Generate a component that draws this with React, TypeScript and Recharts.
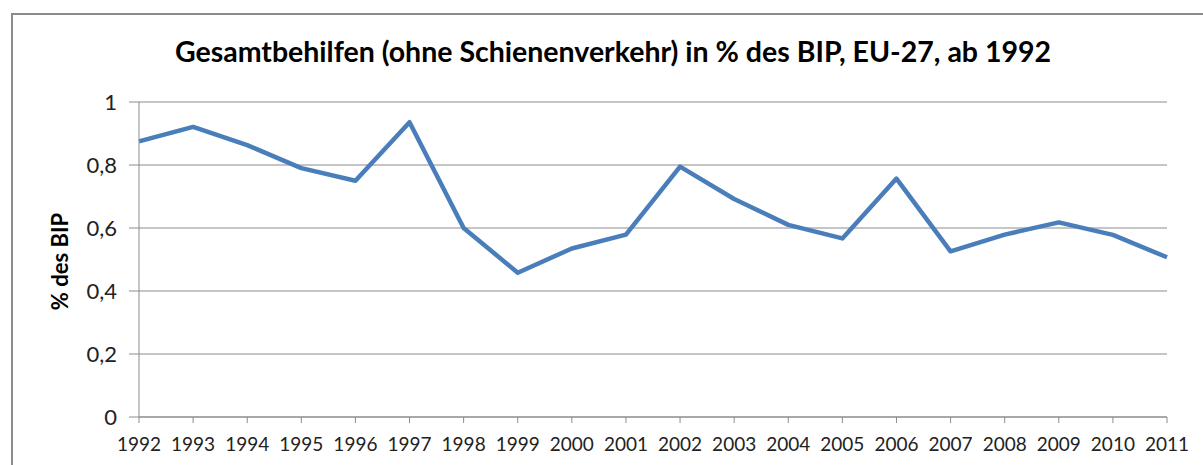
import { LineChart, Line, XAxis, YAxis, CartesianGrid } from "recharts";

// values
const years = ["1992", "1993", "1994", "1995", "1996", "1997", "1998", "1999", "2000", "2001",
   "2002", "2003", "2004", "2005", "2006", "2007", "2008", "2009", "2010", "2011"];
const aidShare = [0.875, 0.921, 0.863, 0.79, 0.75, 0.936, 0.6, 0.458, 0.535, 0.579,
   0.795, 0.692, 0.61, 0.567, 0.757, 0.526, 0.579, 0.618, 0.578, 0.507];
const yTicks = [0, 0.2, 0.4, 0.6, 0.8, 1];

const data = years.map((year, i) => ({ year, value: aidShare[i] }));

const FONT = "Lato, 'Open Sans', sans-serif";
const GREY = "#8c8c8c";

const App = () => (
   <div style={{ position: "absolute", left: 0, top: 0, width: 1203, height: 465, overflow: "hidden", background: "#fff" }}>
      {/* frame, only top and left edges show in the crop */}
      <div style={{ position: "absolute", left: 11, top: 13, width: 1300, height: 500, borderLeft: `2px solid ${GREY}`, borderTop: `2px solid ${GREY}` }} />
      <div style={{ position: "absolute", left: 0, width: 1226, top: 34, textAlign: "center", fontFamily: FONT, fontWeight: 700, fontSize: 28.5, color: "#000" }}>
         Gesamtbehilfen (ohne Schienenverkehr) in % des BIP, EU-27, ab 1992
      </div>
      <div style={{ position: "absolute", left: 0, top: 0 }}>
         <LineChart width={1203} height={465} data={data} margin={{ top: 102, right: 36, bottom: 0, left: 0 }}>
            <CartesianGrid vertical={false} stroke={GREY} strokeWidth={1} />
            <XAxis
               dataKey="year"
               height={48}
               interval={0}
               tickSize={6}
               tickMargin={15}
               stroke={GREY}
               tick={{ fill: "#222", fontSize: 19, fontFamily: FONT }}
            />
            <YAxis
               width={139}
               domain={[0, 1]}
               ticks={yTicks}
               tickSize={10}
               tickMargin={12}
               stroke={GREY}
               tickFormatter={(v: number) => String(v).replace(".", ",")}
               tick={{ fill: "#222", fontSize: 22, fontFamily: FONT }}
               label={{ value: "% des BIP", angle: -90, position: "insideLeft", offset: 60, dy: 2, style: { textAnchor: "middle", fontFamily: FONT, fontWeight: 700, fontSize: 22, fill: "#000" } }}
            />
            <Line type="linear" dataKey="value" stroke="#4a7ebb" strokeWidth={4.5} dot={false} isAnimationActive={false} strokeLinejoin="round" />
         </LineChart>
      </div>
   </div>
);

export default App;
